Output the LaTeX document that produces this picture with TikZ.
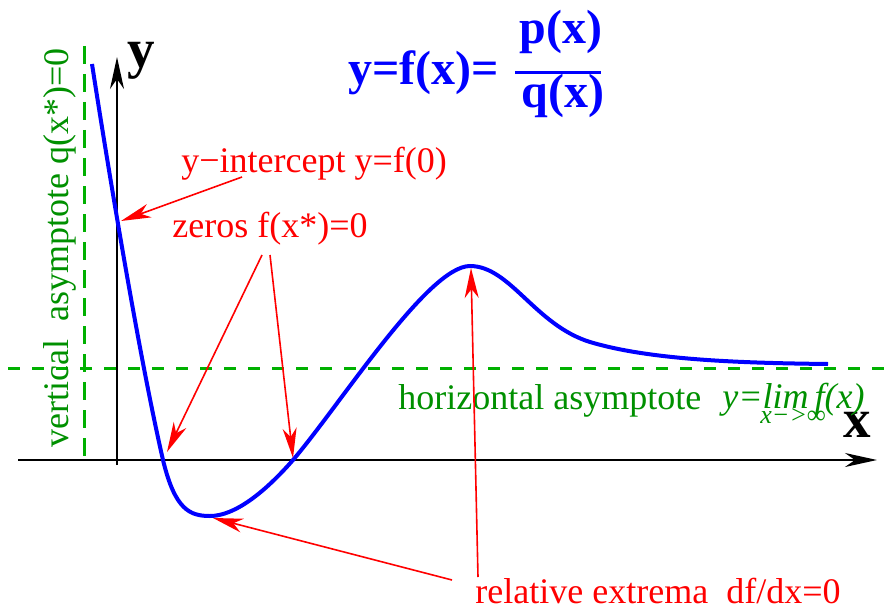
\documentclass[tikz,border=0pt]{standalone}
\usepackage{fontspec}
\setmainfont{Liberation Serif}
\usetikzlibrary{arrows.meta}
\definecolor{fgreen}{RGB}{0,144,0}
\definecolor{dgreen}{RGB}{0,176,0}
\begin{document}
\begin{tikzpicture}[x=0.5pt,y=-0.5pt,
  axisline/.style={line width=1pt,black,-{Stealth[length=16pt,width=7pt,inset=5pt]}},
  redarrow/.style={line width=0.8pt,red,-{Stealth[length=15pt,width=7pt,inset=4.5pt]}},
  asym/.style={line width=1.5pt,dgreen,dash pattern=on 6pt off 6pt},
  curve/.style={line width=2pt,blue},
  lbl/.style={font=\fontsize{18}{20}\selectfont,inner sep=0pt,anchor=base west},
  redlbl/.style={lbl,text=red},
  greenlbl/.style={lbl,text=fgreen},
  boldlbl/.style={inner sep=0pt,font=\fontsize{24}{28}\bfseries\selectfont,text=blue},
  axlbl/.style={inner sep=0pt,anchor=base west,font=\fontsize{27.5}{30}\bfseries\selectfont}]
\useasboundingbox (0,0) rectangle (888,610);

% axes
\coordinate (xs) at (18,460);
\coordinate (xe) at (877,460);
\coordinate (ys) at (117,465);
\coordinate (ye) at (117,57);
\draw[axisline] (xs) -- (xe);
\draw[axisline] (ys) -- (ye);
\node[axlbl] (ylab) at (127,68) {y};
\node[axlbl] (xlab) at (843,437) {x};

% asymptotes
\coordinate (vat) at (84,46);
\coordinate (vab) at (84,460);
\coordinate (hal) at (8,368);
\coordinate (har) at (888,368);
\draw[asym,dash pattern=on 9pt off 5pt] (vat) -- (vab);
\draw[asym] (hal) -- (har);

% curve
\coordinate (c0) at (92,64);
\coordinate (c1) at (163,460);
\coordinate (c2) at (210,516);
\coordinate (c3) at (293,460);
\coordinate (c4) at (470,266);
\coordinate (c5) at (590,342);
\coordinate (c6) at (828,364);
\draw[curve,line cap=butt] (c0) .. controls (110,180) and (140,360) .. (c1)
  .. controls (175,510) and (190,516) .. (c2)
  .. controls (235,516) and (265,492) .. (c3)
  .. controls (340,405) and (428,266) .. (c4)
  .. controls (510,266) and (535,325) .. (c5)
  .. controls (650,360) and (740,363) .. (c6);

% formula
\node[boldlbl,anchor=base west] (eq) at (348,85) {y=f(x)=};
\node[boldlbl,anchor=base] (num) at (561,44) {p(x)};
\node[boldlbl,anchor=base] (den) at (563,108) {q(x)};
\coordinate (fl) at (515,73);
\coordinate (fr) at (601,73);
\draw[blue,line width=1.5pt] (fl) -- (fr);

% labels
\node[redlbl] (yint) at (181,172) {y−intercept y=f(0)};
\node[redlbl] (zeros) at (172,237) {zeros f(x*)=0};
\node[redlbl] (extr) at (475,603) {relative extrema\ \ df/dx=0};
\node[greenlbl] (hor) at (398,409) {horizontal asymptote};
\node[inner sep=0pt,anchor=base west,text=fgreen,font=\fontsize{18}{20}\itshape\selectfont] (lim) at (722,408) {y=lim\,f(x)};
\node[inner sep=0pt,anchor=base west,text=fgreen,font=\fontsize{13}{14}\itshape\selectfont] (limsub) at (760,423) {x−>∞};
\node[greenlbl,rotate=90] (vert) at (68,448) {vertical\ \ asymptote q(x*)=0};

% arrows
\coordinate (a1s) at (242,177);
\coordinate (a1e) at (121,221);
\coordinate (a2s) at (262,255);
\coordinate (a2e) at (167,452);
\coordinate (a3s) at (270,255);
\coordinate (a3e) at (293,458);
\coordinate (a4s) at (452,580);
\coordinate (a4e) at (213,518);
\coordinate (a5s) at (478,577);
\coordinate (a5e) at (471,268);
\draw[redarrow] (a1s) -- (a1e);
\draw[redarrow] (a2s) -- (a2e);
\draw[redarrow] (a3s) -- (a3e);
\draw[redarrow] (a4s) -- (a4e);
\draw[redarrow] (a5s) -- (a5e);
\end{tikzpicture}
\end{document}
